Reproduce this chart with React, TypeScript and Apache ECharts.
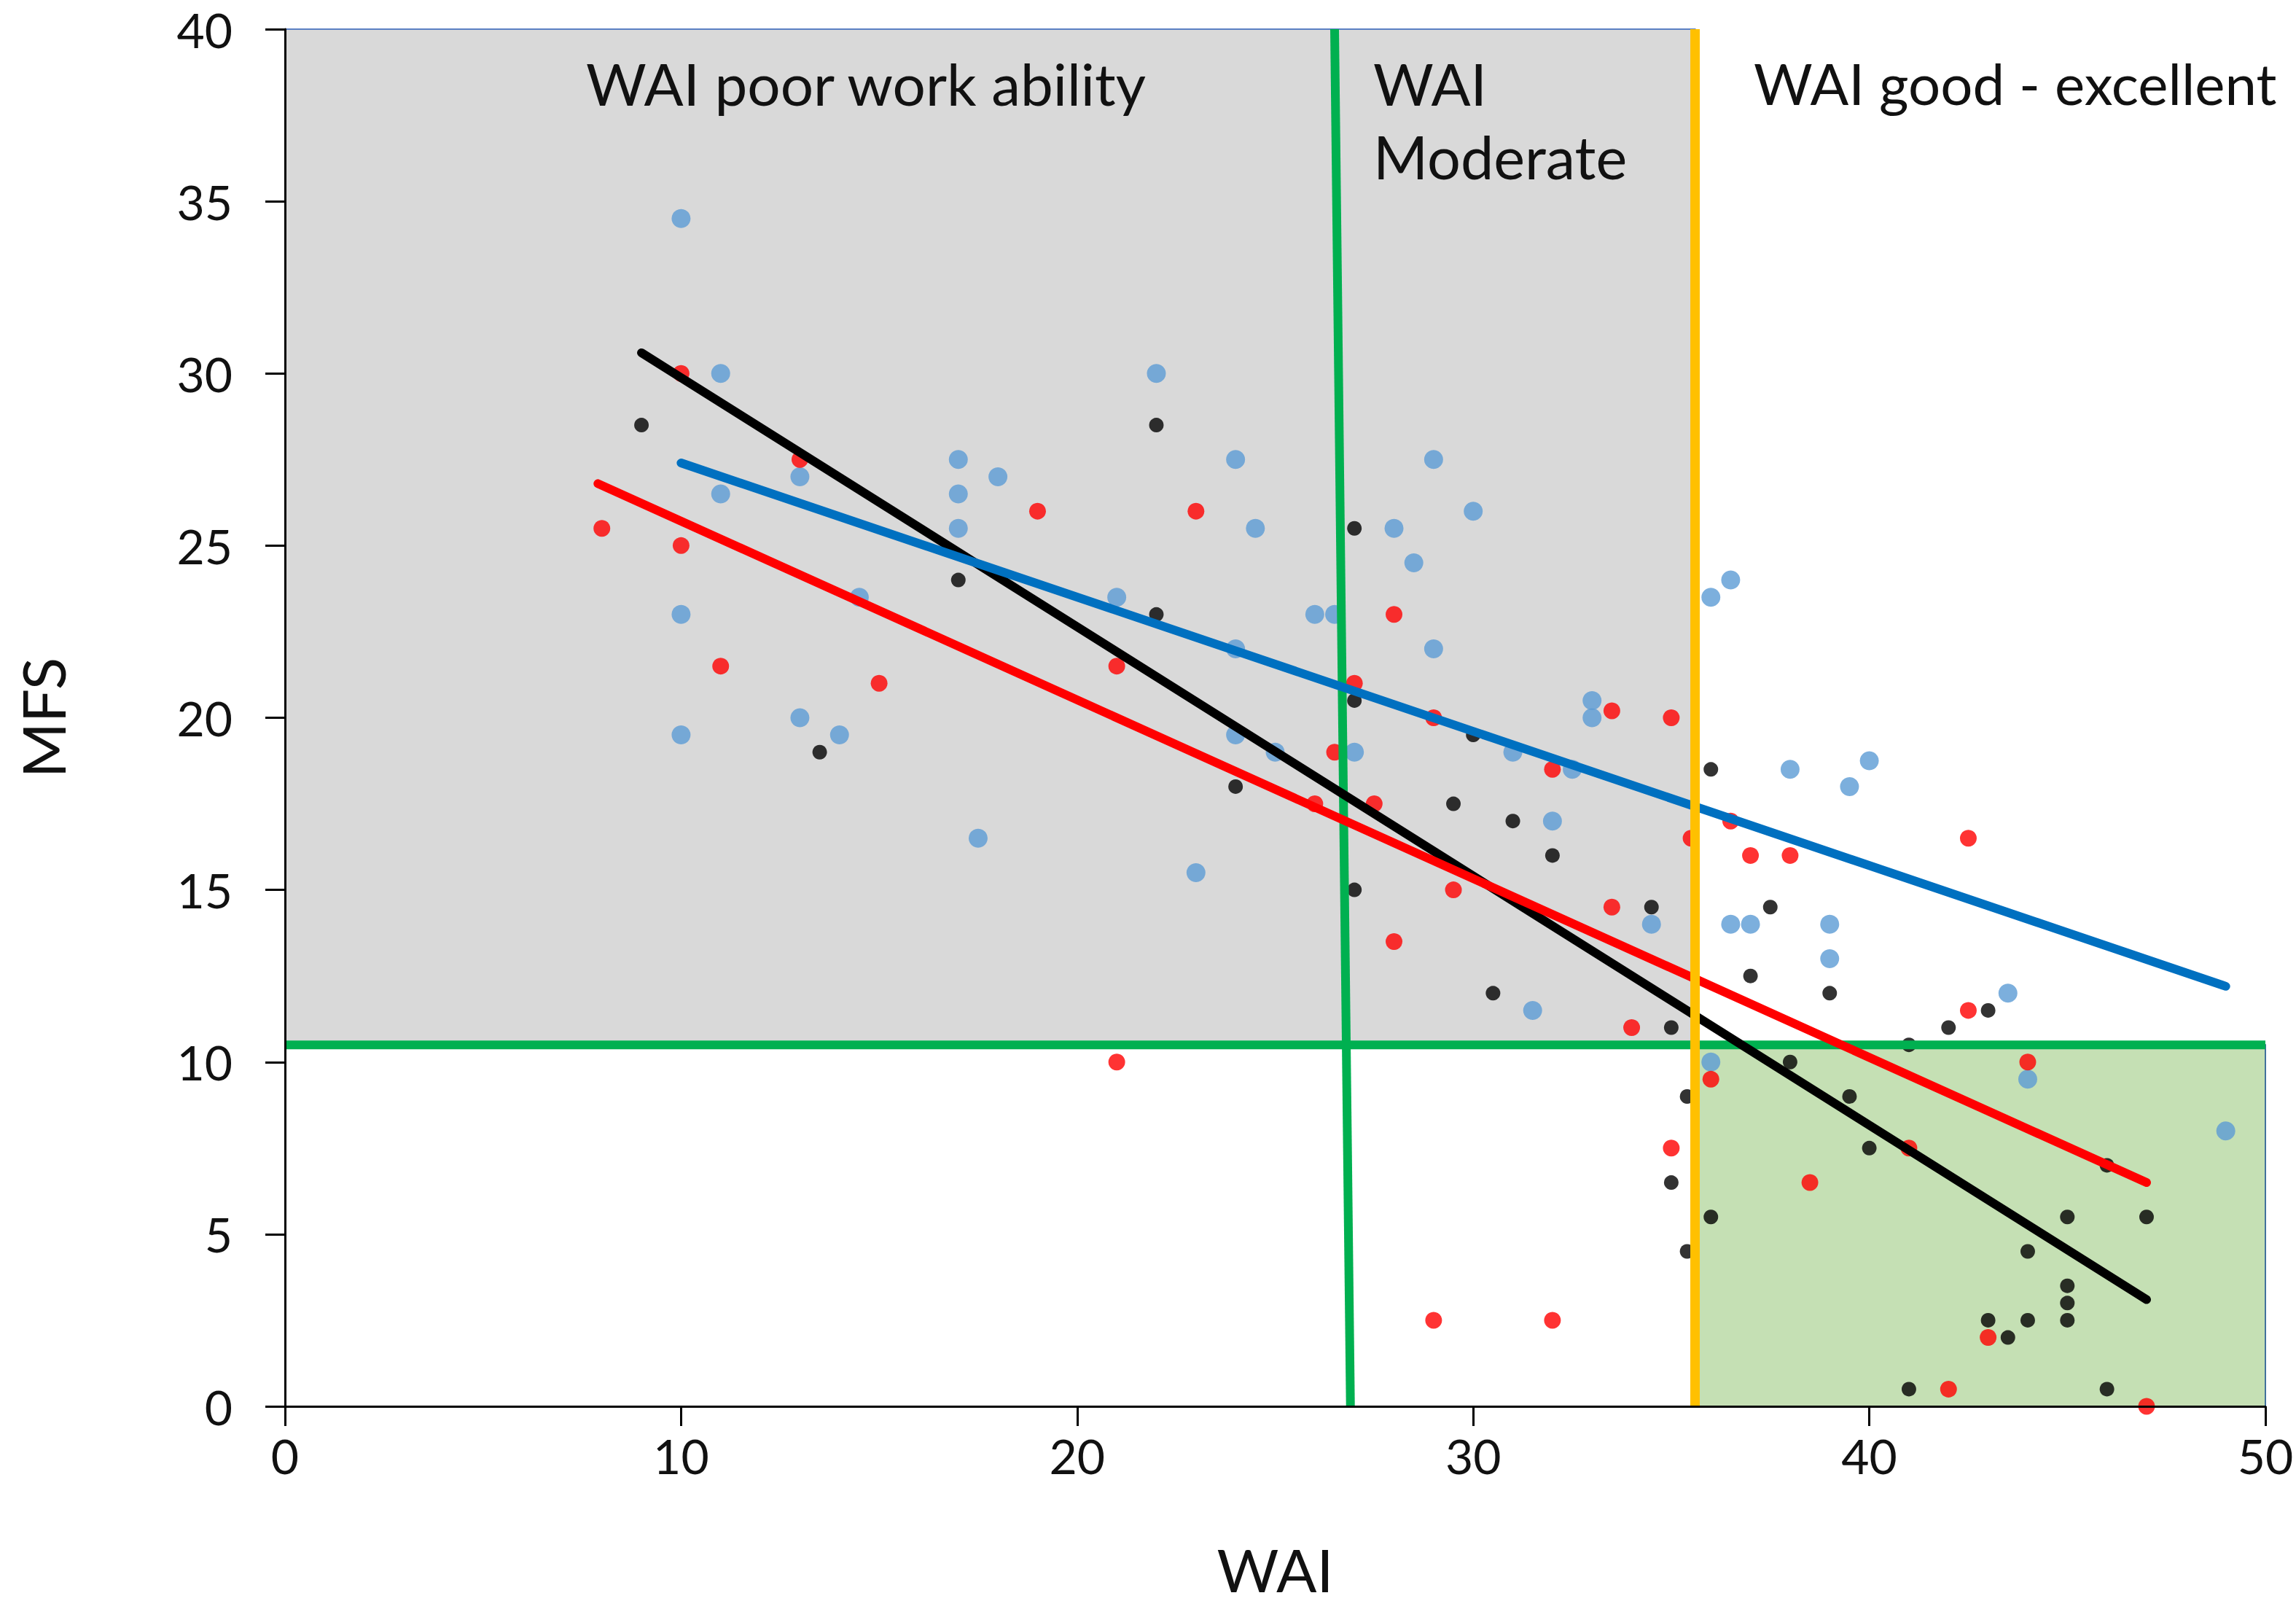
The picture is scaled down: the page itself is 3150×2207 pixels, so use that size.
import React, { useEffect, useRef } from "react";
import * as echarts from "echarts";

// Work Ability Index (x) vs Multidimensional Fatigue Scale (y)
const bluePoints: [number, number][] = [
  [10, 34.5], [11, 30], [10, 23], [10, 19.5], [11, 26.5], [13, 27], [13, 20], [14, 19.5],
  [14.5, 23.5], [17, 27.5], [17, 26.5], [17, 25.5], [18, 27], [17.5, 16.5], [21, 23.5],
  [22, 30], [24, 27.5], [24.5, 25.5], [24, 22], [24, 19.5], [25, 19], [23, 15.5], [26, 23],
  [26.5, 23], [27, 19], [28, 25.5], [28.5, 24.5], [29, 27.5], [29, 22], [30, 26], [31, 19],
  [32.5, 18.5], [32, 17], [33, 20.5], [33, 20], [34.5, 14], [31.5, 11.5], [36, 23.5],
  [36.5, 24], [38, 18.5], [40, 18.75], [39.5, 18], [36.5, 14], [37, 14], [39, 14], [39, 13],
  [43.5, 12], [36, 10], [44, 9.5], [49, 8],
];

const redPoints: [number, number][] = [
  [8, 25.5], [10, 30], [10, 25], [11, 21.5], [13, 27.5], [15, 21], [19, 26], [21, 21.5],
  [21, 10], [23, 26], [26, 17.5], [26.5, 19], [27, 21], [27.5, 17.5], [28, 23], [28, 13.5],
  [29, 20], [29.5, 15], [29, 2.5], [32, 18.5], [32, 2.5], [33.5, 20.2], [33.5, 14.5], [34, 11],
  [35, 20], [35.5, 16.5], [35, 7.5], [36, 9.5], [36.5, 17], [37, 16], [38, 16], [38.5, 6.5],
  [41, 7.5], [42.5, 16.5], [42.5, 11.5], [44, 10], [43, 2], [42, 0.5], [47, 0],
];

const blackPoints: [number, number][] = [
  [9, 28.5], [13.5, 19], [17, 24], [22, 28.5], [22, 23], [24, 18], [27, 25.5], [27, 20.5],
  [27, 15], [29.5, 17.5], [31, 17], [32, 16], [30, 19.5], [30.5, 12], [34.5, 14.5], [36, 18.5],
  [37.5, 14.5], [37, 12.5], [39, 12], [43, 11.5], [42, 11], [41, 10.5], [35, 11], [38, 10],
  [39.5, 9], [35.4, 9], [40, 7.5], [35, 6.5], [36, 5.5], [35.4, 4.5], [45, 5.5], [47, 5.5],
  [44, 4.5], [45, 3.5], [45, 3], [45, 2.5], [43, 2.5], [44, 2.5], [43.5, 2], [41, 0.5],
  [46, 0.5], [46, 7],
];

// Trend lines (end points)
const blueTrend: [number, number][] = [[10, 27.4], [49, 12.2]];
const redTrend: [number, number][] = [[7.9, 26.8], [47, 6.5]];
const blackTrend: [number, number][] = [[9, 30.6], [47, 3.1]];

// Cut-off lines
const mfsCutoff = 10.5;
const moderateLine: [number, number][] = [[26.5, 40], [26.9, 0]];
const goodCutoff = 35.6;

const xTicks = { min: 0, max: 50, interval: 10 };
const yTicks = { min: 0, max: 40, interval: 5 };

const regionLabels = ["WAI poor work ability", "WAI", "Moderate", "WAI good - excellent"];

const FONT = "Lato, 'Open Sans', sans-serif";

export default function App() {
  const ref = useRef<HTMLDivElement>(null);

  useEffect(() => {
    if (!ref.current) return;
    const chart = echarts.init(ref.current, undefined, { renderer: "svg" });

    const axisCommon = {
      type: "value" as const,
      z: 6,
      axisLine: { show: true, onZero: false, lineStyle: { color: "#000", width: 3 } },
      axisTick: { show: true, inside: false, length: 27, lineStyle: { color: "#000", width: 3 } },
      splitLine: { show: false },
      nameTextStyle: { fontSize: 82, fontFamily: FONT, color: "#111" },
    };

    chart.setOption({
      animation: false,
      backgroundColor: "#fff",
      grid: { left: 391, right: 42, top: 40, bottom: 278 },
      xAxis: {
        ...axisCommon,
        ...xTicks,
        name: "WAI",
        nameLocation: "middle",
        nameGap: 182,
        axisLabel: { fontSize: 66, fontFamily: FONT, color: "#111", margin: 34 },
      },
      yAxis: {
        ...axisCommon,
        ...yTicks,
        name: "MFS",
        nameLocation: "middle",
        nameGap: 292,
        axisLabel: { fontSize: 66, fontFamily: FONT, color: "#111", margin: 72 },
      },
      graphic: [
        { type: "text", x: 804, y: 114, z: 20, style: { text: regionLabels[0], fontSize: 80, fontFamily: FONT, fill: "#111", align: "left", verticalAlign: "middle" } },
        { type: "text", x: 1884, y: 114, z: 20, style: { text: regionLabels[1], fontSize: 80, fontFamily: FONT, fill: "#111", align: "left", verticalAlign: "middle" } },
        { type: "text", x: 1884, y: 214, z: 20, style: { text: regionLabels[2], fontSize: 81, fontFamily: FONT, fill: "#111", align: "left", verticalAlign: "middle" } },
        { type: "text", x: 2406, y: 114, z: 20, style: { text: regionLabels[3], fontSize: 78, fontFamily: FONT, fill: "#111", align: "left", verticalAlign: "middle" } },
      ],
      series: [
        {
          type: "scatter",
          z: 1,
          data: [],
          silent: true,
          markArea: {
            silent: true,
            data: [
              [
                { xAxis: 0, yAxis: 40, itemStyle: { color: "#d9d9d9", borderColor: "#5b80c4", borderWidth: 2 } },
                { xAxis: goodCutoff, yAxis: mfsCutoff },
              ],
              [
                { xAxis: goodCutoff, yAxis: mfsCutoff, itemStyle: { color: "#c5e0b4", borderColor: "#41719c", borderWidth: 2 } },
                { xAxis: 50, yAxis: 0 },
              ],
            ],
          },
        },
        {
          name: "blue", type: "scatter", z: 2, data: bluePoints, symbolSize: 26,
          itemStyle: { color: "#5b9bd5" },
        },
        {
          name: "red", type: "scatter", z: 2, data: redPoints, symbolSize: 23,
          itemStyle: { color: "#ff0000" },
        },
        {
          name: "black", type: "scatter", z: 2, data: blackPoints, symbolSize: 20,
          itemStyle: { color: "#000000" },
        },
        {
          type: "line", z: 3, data: [[0, mfsCutoff], [50, mfsCutoff]], symbol: "none",
          lineStyle: { color: "#00b050", width: 12 },
        },
        {
          type: "line", z: 3, data: moderateLine, symbol: "none",
          lineStyle: { color: "#00b050", width: 12 },
        },
        {
          type: "line", z: 4, data: blackTrend, symbol: "none",
          lineStyle: { color: "#000000", width: 12, cap: "round" },
        },
        {
          type: "line", z: 4, data: redTrend, symbol: "none",
          lineStyle: { color: "#ff0000", width: 12, cap: "round" },
        },
        {
          type: "line", z: 4, data: blueTrend, symbol: "none",
          lineStyle: { color: "#0070c0", width: 12, cap: "round" },
        },
        {
          type: "line", z: 5, data: [[goodCutoff, 40], [goodCutoff, 0]], symbol: "none",
          lineStyle: { color: "#ffc000", width: 13 },
        },
      ],
    });

    return () => chart.dispose();
  }, []);

  return (
    <div
      ref={ref}
      style={{ position: "fixed", left: 0, top: 0, width: 3150, height: 2207, background: "#fff" }}
    />
  );
}
